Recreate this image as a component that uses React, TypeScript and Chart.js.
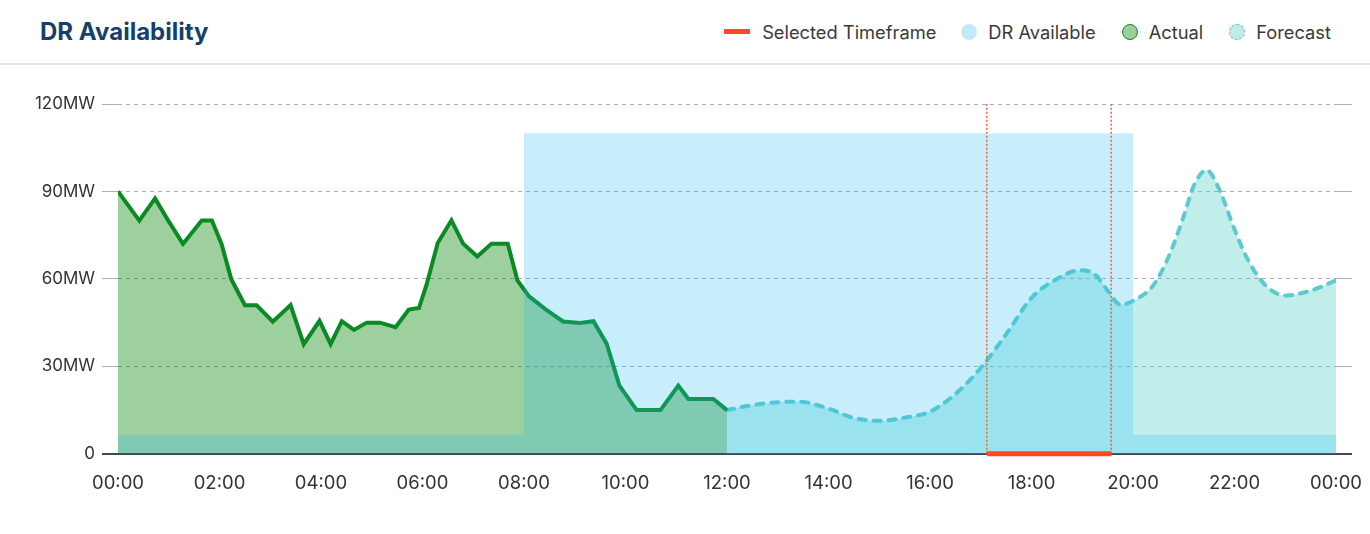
import React, { useEffect, useRef } from 'react';
import { Chart, registerables } from 'chart.js';

Chart.register(...registerables);

// ---- Data ----
const xTickHours = [0, 2, 4, 6, 8, 10, 12, 14, 16, 18, 20, 22, 24];
const xTickLabels = ['00:00', '02:00', '04:00', '06:00', '08:00', '10:00', '12:00', '14:00', '16:00', '18:00', '20:00', '22:00', '00:00'];
const yTickValues = [0, 30, 60, 90, 120];
const yTickLabels = ['0', '30MW', '60MW', '90MW', '120MW'];

const actualHours = [0, 0.42, 0.73, 0.99, 1.28, 1.65, 1.85, 2.04, 2.23, 2.5, 2.73, 3.05, 3.4, 3.66, 3.97, 4.19, 4.41, 4.65, 4.9, 5.16, 5.47, 5.73, 5.93, 6.08, 6.3, 6.57, 6.8, 7.08, 7.36, 7.68, 7.87, 8.1, 8.44, 8.77, 9.1, 9.37, 9.63, 9.88, 10.22, 10.69, 11.04, 11.24, 11.73, 12];
const actualMW = [90, 80, 87.6, 80, 72, 80, 80, 72, 60, 51, 51, 45.3, 51, 37.6, 45.6, 37.6, 45.5, 42.5, 45, 45, 43.4, 49.5, 50, 58, 72.3, 80.1, 72.1, 67.7, 72.1, 72.1, 59.5, 54, 49.4, 45.4, 44.9, 45.5, 37.7, 23.4, 15, 15, 23.4, 18.8, 18.8, 15];

const forecastHours = [12, 12.5, 13, 13.4, 14, 14.5, 15, 15.5, 16, 16.5, 17, 17.5, 18, 18.5, 18.95, 19.25, 19.5, 19.75, 20.1, 20.4, 20.7, 21, 21.2, 21.45, 21.7, 22, 22.25, 22.6, 23, 23.5, 24];
const forecastMW = [15, 16.7, 17.7, 17.9, 15.5, 12.3, 11.3, 12.4, 14.5, 20.5, 29.5, 41, 53.5, 60, 63, 61.5, 56, 51.2, 53.4, 57.8, 67.5, 81.5, 92, 97.3, 90.7, 77, 67, 58, 54.3, 56, 59.5];

const drHours = [0, 8, 20, 24];
const drMW = [6.5, 110, 6.5, 6.5];

const selectedStart = 17.12;
const selectedEnd = 19.57;

const legendLabels = ['Selected Timeframe', 'DR Available', 'Actual', 'Forecast'];

// ---- Styles ----
const RED = '#ff4a1c';
const GREEN = '#0a8a22';
const TEAL = '#5ccbd0';
const GRID = '#a9aebd';
const ZERO = '#404857';

const toPoints = (xs: number[], ys: number[]) => xs.map((x, i) => ({ x, y: ys[i] }));

const gridColor = (ctx: any) => (ctx.tick && ctx.tick.value === 0 ? ZERO : GRID);
const gridWidth = (ctx: any) => (ctx.tick && ctx.tick.value === 0 ? 2 : 1);
const gridDash = (ctx: any) => (ctx.tick && ctx.tick.value === 0 ? [] : [4, 4]);

export default function App() {
  const canvasRef = useRef<HTMLCanvasElement | null>(null);

  useEffect(() => {
    document.body.style.margin = '0';
    const canvas = canvasRef.current;
    if (!canvas) return;
    Chart.defaults.font.family = 'Inter';

    const chart = new Chart(canvas, {
      type: 'line',
      data: {
        datasets: [
          {
            label: legendLabels[0],
            data: [{ x: selectedStart, y: 0 }, { x: selectedEnd, y: 0 }],
            borderColor: RED,
            borderWidth: 5,
            borderCapStyle: 'butt',
            pointRadius: 0,
            fill: false,
            clip: false as any,
            order: -2,
          },
          {
            label: 'start',
            data: [{ x: selectedStart, y: 0 }, { x: selectedStart, y: 120 }],
            borderColor: '#f0603c',
            borderWidth: 1.5,
            borderDash: [2, 2],
            pointRadius: 0,
            fill: false,
            order: -1,
          },
          {
            label: 'end',
            data: [{ x: selectedEnd, y: 0 }, { x: selectedEnd, y: 120 }],
            borderColor: '#f0603c',
            borderWidth: 1.5,
            borderDash: [2, 2],
            pointRadius: 0,
            fill: false,
            order: -1,
          },
          {
            label: legendLabels[1],
            data: toPoints(drHours, drMW),
            stepped: true,
            fill: 'origin',
            backgroundColor: 'rgba(35,187,243,0.25)',
            borderWidth: 0,
            borderColor: 'rgba(0,0,0,0)',
            pointRadius: 0,
            order: 0,
          },
          {
            label: legendLabels[2],
            data: toPoints(actualHours, actualMW),
            borderColor: GREEN,
            borderWidth: 4,
            backgroundColor: 'rgba(0,128,0,0.38)',
            fill: 'origin',
            tension: 0,
            pointRadius: 0,
            order: 1,
          },
          {
            label: legendLabels[3],
            data: toPoints(forecastHours, forecastMW),
            borderColor: TEAL,
            borderWidth: 4,
            borderDash: [7, 8],
            borderCapStyle: 'round',
            backgroundColor: 'rgba(78,205,196,0.35)',
            fill: 'origin',
            cubicInterpolationMode: 'monotone',
            pointRadius: 0,
            order: 2,
          },
        ] as any,
      },
      options: {
        animation: false,
        responsive: false,
        maintainAspectRatio: false,
        devicePixelRatio: 1,
        layout: { padding: { left: 0, right: 18, top: 39, bottom: 20 } },
        plugins: {
          legend: { display: false },
          tooltip: { enabled: false },
        },
        scales: {
          x: {
            type: 'linear',
            min: 0,
            max: 24,
            grid: { display: false, drawTicks: false },
            border: { display: true, color: ZERO, width: 2 },
            afterBuildTicks: (s: any) => {
              s.ticks = xTickHours.map((v) => ({ value: v }));
            },
            afterFit: (s: any) => {
              s.paddingLeft = 0;
              s.paddingRight = 0;
            },
            ticks: {
              autoSkip: false,
              maxRotation: 0,
              padding: 19,
              color: '#333333',
              font: { size: 18.5, family: 'Inter' },
              callback: (v: any) => {
                const i = xTickHours.indexOf(Number(v));
                return i >= 0 ? xTickLabels[i] : '';
              },
            },
          },
          y: {
            type: 'linear',
            position: 'left',
            min: 0,
            max: 120,
            afterFit: (s: any) => {
              s.width = 118;
            },
            afterBuildTicks: (s: any) => {
              s.ticks = yTickValues.map((v) => ({ value: v }));
            },
            grid: { color: gridColor, lineWidth: gridWidth, tickLength: 16 },
            border: { display: false, dash: gridDash as any },
            ticks: {
              padding: 7,
              color: '#333333',
              font: { size: 17, family: 'Inter' },
              callback: (v: any) => {
                const i = yTickValues.indexOf(Number(v));
                return i >= 0 ? yTickLabels[i] : '';
              },
            },
          },
          y2: {
            type: 'linear',
            position: 'right',
            min: 0,
            max: 120,
            afterBuildTicks: (s: any) => {
              s.ticks = yTickValues.map((v) => ({ value: v }));
            },
            grid: { color: gridColor, lineWidth: gridWidth, tickLength: 16, drawOnChartArea: false },
            border: { display: false, dash: gridDash as any },
            ticks: { display: false },
          },
        },
      } as any,
    });
    return () => chart.destroy();
  }, []);

  const legendText: React.CSSProperties = { fontSize: 18.3, color: '#3a3a3a', whiteSpace: 'nowrap' };
  const dot = (extra: React.CSSProperties): React.CSSProperties => ({
    width: 16,
    height: 16,
    borderRadius: '50%',
    boxSizing: 'border-box',
    marginRight: 11,
    display: 'inline-block',
    ...extra,
  });

  return (
    <div style={{ width: 1370, height: 534, fontFamily: 'Inter', background: '#ffffff', overflow: 'hidden' }}>
      <style>{'html,body{margin:0;padding:0;overflow:hidden;}'}</style>
      <div style={{ position: 'relative', height: 63, borderBottom: '2px solid #e0e1e6' }}>
        <div style={{ position: 'absolute', left: 40, top: 0, height: 63, display: 'flex', alignItems: 'center', fontSize: 24, fontWeight: 700, color: '#163f6b' }}>
          DR Availability
        </div>
        <div style={{ position: 'absolute', right: 39, top: 0, height: 63, display: 'flex', alignItems: 'center' }}>
          <span style={{ width: 26, height: 5, background: RED, marginRight: 12, display: 'inline-block' }} />
          <span style={{ ...legendText, marginRight: 25 }}>{legendLabels[0]}</span>
          <span style={dot({ background: '#c3e9f7' })} />
          <span style={{ ...legendText, marginRight: 26 }}>{legendLabels[1]}</span>
          <span style={dot({ background: '#9dcf9d', border: `1.5px solid ${GREEN}` })} />
          <span style={{ ...legendText, marginRight: 26 }}>{legendLabels[2]}</span>
          <span style={dot({ background: '#c1ebe8', border: `1.5px dashed ${TEAL}` })} />
          <span style={legendText}>{legendLabels[3]}</span>
        </div>
      </div>
      <div style={{ position: 'relative', width: 1370, height: 469 }}>
        <canvas ref={canvasRef} width={1370} height={469} style={{ display: 'block', width: 1370, height: 469 }} />
      </div>
    </div>
  );
}
